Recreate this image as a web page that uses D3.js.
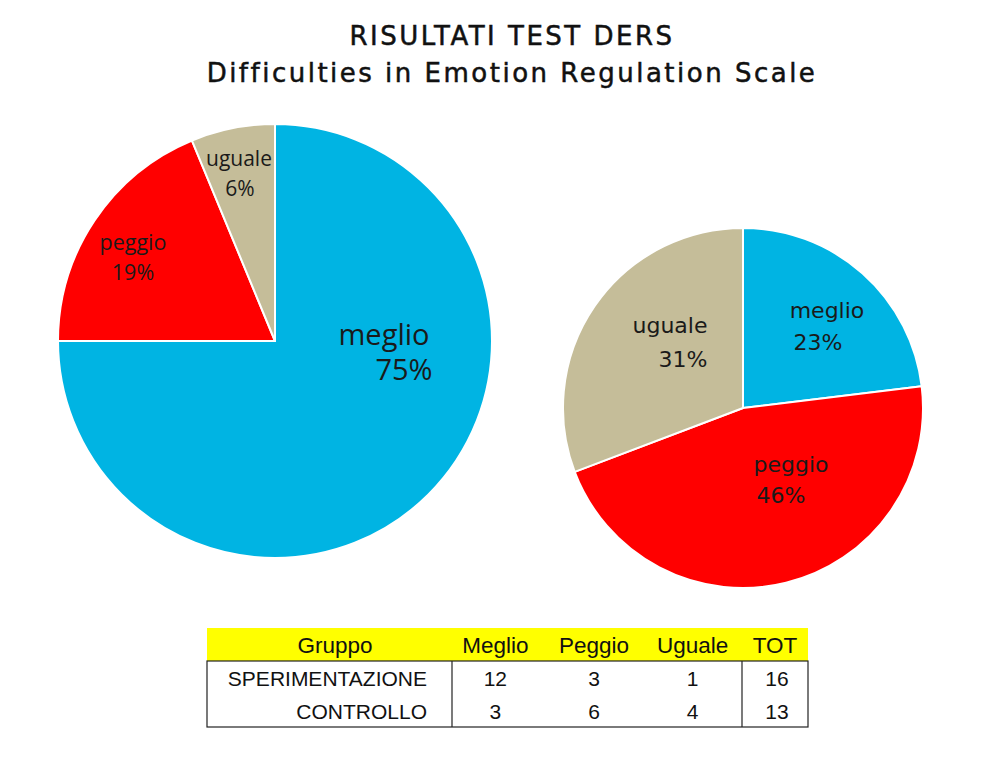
<!DOCTYPE html>
<html>
<head>
<meta charset="utf-8">
<script src="https://cdn.jsdelivr.net/npm/d3@7"></script>
<style>
  body { margin: 0; background: #fff; }
  svg { display: block; }
</style>
</head>
<body>
<svg id="chart" width="992" height="760"></svg>
<script>
// Data
const titleLines = ["RISULTATI TEST DERS", "Difficulties in Emotion Regulation Scale"];
const categories = ["meglio", "peggio", "uguale"];
const groups = ["SPERIMENTAZIONE", "CONTROLLO"];
const sperimentazione = [12, 3, 1];   // meglio, peggio, uguale
const controllo = [3, 6, 4];
const pctSper = ["75%", "19%", "6%"];
const pctContr = ["23%", "46%", "31%"];
const tableHeader = ["Gruppo", "Meglio", "Peggio", "Uguale", "TOT"];

const color = d3.scaleOrdinal()
    .domain(categories)
    .range(["#00b4e3", "#ff0000", "#c5bd99"]);

const svg = d3.select("#chart");

// Title
svg.append("g").selectAll("text")
    .data(titleLines)
    .enter().append("text")
    .attr("x", 512)
    .attr("y", (d, i) => 45 + i * 37)
    .attr("text-anchor", "middle")
    .style("font-family", "'DejaVu Sans', sans-serif")
    .style("font-size", "26px")
    .style("letter-spacing", "2.5px")
    .attr("fill", "#111")
    .attr("stroke", "#111")
    .attr("stroke-width", 0.5)
    .text(d => d);

// Pie layout: start at 12 o'clock, clockwise, in data order
const pie = d3.pie().sort(null).value(d => d.value);

// label placement relative to pie centre: [name dx, name dy, pct dx, pct dy, font size]
const pies = [
    {cx: 275, cy: 341, r: 217, values: sperimentazione, pcts: pctSper,
     font: "'Open Sans', 'Noto Sans', sans-serif",
     labels: [[109, 4, 129, 39, 29], [-142, -91, -142, -61, 21.5], [-36, -175, -35, -145, 21]]},
    {cx: 743, cy: 408, r: 180, values: controllo, pcts: pctContr,
     font: "'DejaVu Sans', sans-serif",
     labels: [[84, -90, 75, -58, 22], [48, 64, 38, 95, 22], [-73, -75, -60, -41, 22]]}
];

pies.forEach(p => {
    const arc = d3.arc().innerRadius(0).outerRadius(p.r);
    const g = svg.append("g").attr("transform", `translate(${p.cx},${p.cy})`);
    const arcs = pie(categories.map((c, i) => ({key: c, value: p.values[i], pct: p.pcts[i]})));

    g.selectAll("path")
        .data(arcs)
        .enter().append("path")
        .attr("d", arc)
        .attr("fill", d => color(d.data.key))
        .attr("stroke", "#fff")
        .attr("stroke-width", 2)
        .attr("stroke-linejoin", "round");

    const lab = g.selectAll("g.lab")
        .data(arcs)
        .enter().append("g")
        .attr("class", "lab")
        .style("font-family", p.font)
        .attr("fill", "#1a1a1a")
        .attr("text-anchor", "middle");

    lab.append("text")
        .attr("x", (d, i) => p.labels[i][0])
        .attr("y", (d, i) => p.labels[i][1])
        .style("font-size", (d, i) => p.labels[i][4] + "px")
        .text(d => d.data.key);

    lab.append("text")
        .attr("x", (d, i) => p.labels[i][2])
        .attr("y", (d, i) => p.labels[i][3])
        .style("font-size", (d, i) => p.labels[i][4] + "px")
        .text(d => d.data.pct);
});

// Table
const tbl = {x0: 207, xSplit: 452, xTot: 742, x1: 808, yTop: 628, yHead: 661, rowH: 33};
const valueCols = d3.scaleBand()
    .domain(["Meglio", "Peggio", "Uguale"])
    .range([tbl.xSplit - 6, tbl.xTot]);
const rows = groups.map((gname, i) => {
    const vals = i === 0 ? sperimentazione : controllo;
    return {name: gname, vals: vals, tot: d3.sum(vals)};
});
const yRow = d3.scaleBand()
    .domain(groups)
    .range([tbl.yHead, tbl.yHead + tbl.rowH * groups.length]);

const t = svg.append("g")
    .style("font-family", "'Liberation Sans', Arial, sans-serif")
    .attr("fill", "#111");

t.append("rect")
    .attr("x", tbl.x0).attr("y", tbl.yTop)
    .attr("width", tbl.x1 - tbl.x0).attr("height", tbl.yHead - tbl.yTop)
    .attr("fill", "#ffff00");

const colCenter = k => valueCols(k) + valueCols.bandwidth() / 2;
const headX = [335, ...valueCols.domain().map(colCenter), (tbl.xTot + tbl.x1) / 2];
t.selectAll("text.head")
    .data(tableHeader)
    .enter().append("text")
    .attr("class", "head")
    .attr("x", (d, i) => headX[i])
    .attr("y", tbl.yTop + 25)
    .attr("text-anchor", "middle")
    .style("font-size", "22.5px")
    .text(d => d);

// body borders
const bodyBottom = tbl.yHead + tbl.rowH * groups.length;
t.append("rect")
    .attr("x", tbl.x0).attr("y", tbl.yHead)
    .attr("width", tbl.x1 - tbl.x0).attr("height", bodyBottom - tbl.yHead)
    .attr("fill", "none").attr("stroke", "#222").attr("stroke-width", 1.2);
[tbl.xSplit, tbl.xTot].forEach(x => {
    t.append("line")
        .attr("x1", x).attr("x2", x)
        .attr("y1", tbl.yHead).attr("y2", bodyBottom)
        .attr("stroke", "#222").attr("stroke-width", 1.2);
});

const row = t.selectAll("g.row")
    .data(rows)
    .enter().append("g")
    .attr("class", "row")
    .attr("transform", d => `translate(0,${yRow(d.name) + 25})`)
    .style("font-size", "21px");

row.append("text")
    .attr("x", 427)
    .attr("text-anchor", "end")
    .text(d => d.name);

row.selectAll("text.v")
    .data(d => d.vals)
    .enter().append("text")
    .attr("class", "v")
    .attr("x", (d, i) => colCenter(valueCols.domain()[i]))
    .attr("text-anchor", "middle")
    .text(d => d);

row.append("text")
    .attr("x", (tbl.xTot + tbl.x1) / 2 + 2)
    .attr("text-anchor", "middle")
    .text(d => d.tot);
</script>
</body>
</html>
